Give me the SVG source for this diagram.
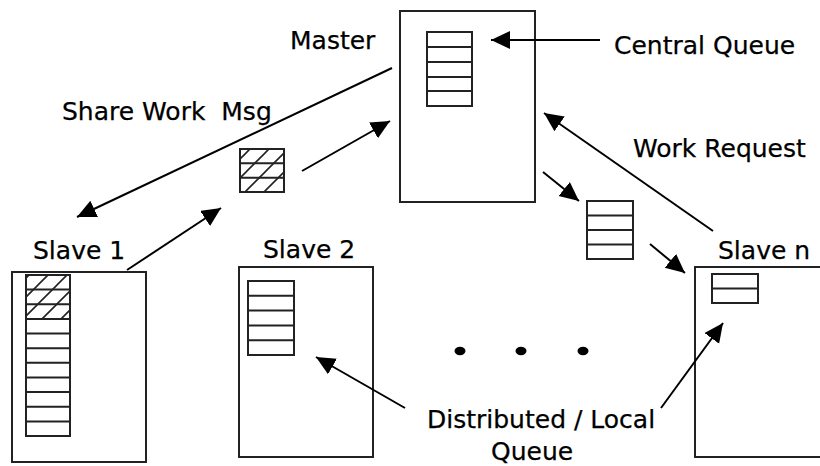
<svg xmlns="http://www.w3.org/2000/svg" width="820" height="466" viewBox="0 0 820 466">
  <style>
    .box { fill: #fff; stroke: #222; stroke-width: 2; }
    .cell { fill: none; stroke: #222; stroke-width: 2; }
    .hatch { fill: url(#hatch); stroke: none; }
    .arrow { stroke: #000; stroke-width: 2; fill: none; marker-end: url(#head); }
    .label { font-family: "DejaVu Sans", Verdana, sans-serif; font-size: 25px; fill: #000; stroke: #000; stroke-width: 0.25; }
    .dot { fill: #000; }
  </style>
  <defs>
    <marker id="head" markerUnits="userSpaceOnUse" markerWidth="21" markerHeight="19" refX="19" refY="9" orient="auto">
      <path d="M0,0 L19,9 L0,18 z" fill="#000"/>
    </marker>
    <pattern id="hatch" patternUnits="userSpaceOnUse" width="19" height="19">
      <path d="M-2,21 L21,-2 M-2,2 L2,-2 M17,21 L21,17" stroke="#222" stroke-width="1.6"/>
    </pattern>
  </defs>

  <!-- Master with its central queue -->
  <g id="master">
    <rect class="box" x="400" y="11" width="135" height="191"/>
    <rect class="cell" x="427" y="32" width="45" height="74"/>
    <path class="cell" d="M427,47 H472 M427,62 H472 M427,77 H472 M427,91 H472"/>
    <text class="label" x="290" y="49">Master</text>
  </g>

  <g id="central-queue-label">
    <text class="label" x="614" y="54">Central Queue</text>
  </g>

  <!-- Work item travelling from Slave 1 -->
  <g id="share-msg">
    <rect class="hatch" x="240" y="149" width="44" height="43"/>
    <rect class="cell" x="240" y="149" width="44" height="43"/>
    <path class="cell" d="M240,163.3 H284 M240,177.7 H284"/>
  </g>

  <g id="share-label">
    <text class="label" x="62" y="120" xml:space="preserve">Share Work  Msg</text>
  </g>

  <!-- Work items on their way to Slave n -->
  <g id="transit-queue">
    <rect class="cell" x="587" y="201" width="46" height="58"/>
    <path class="cell" d="M587,215.5 H633 M587,230 H633 M587,244.5 H633"/>
  </g>

  <g id="work-request-label">
    <text class="label" x="633" y="157">Work Request</text>
  </g>

  <!-- Slave 1: long local queue, top three items shared -->
  <g id="slave1">
    <rect class="box" x="12" y="272" width="134" height="190"/>
    <rect class="hatch" x="26" y="275" width="44" height="44"/>
    <rect class="cell" x="26" y="275" width="44" height="161"/>
    <path class="cell" d="M26,289.6 H70 M26,304.3 H70 M26,318.9 H70 M26,333.5 H70 M26,348.2 H70 M26,362.8 H70 M26,377.5 H70 M26,392.1 H70 M26,406.7 H70 M26,421.4 H70"/>
    <text class="label" x="33" y="259">Slave 1</text>
  </g>

  <!-- Slave 2 -->
  <g id="slave2">
    <rect class="box" x="239" y="267" width="134" height="190"/>
    <rect class="cell" x="248" y="281" width="46" height="74"/>
    <path class="cell" d="M248,295.8 H294 M248,310.6 H294 M248,325.4 H294 M248,340.2 H294"/>
    <text class="label" x="263" y="258">Slave 2</text>
  </g>

  <!-- Slave n -->
  <g id="slaven">
    <rect class="box" x="695" y="267" width="128" height="190"/>
    <rect class="cell" x="712" y="274" width="46" height="29"/>
    <path class="cell" d="M712,288.5 H758"/>
    <text class="label" x="718" y="259">Slave n</text>
  </g>

  <g id="ellipsis">
    <ellipse class="dot" cx="460" cy="351" rx="5.5" ry="4.2"/>
    <ellipse class="dot" cx="521" cy="351" rx="5.5" ry="4.2"/>
    <ellipse class="dot" cx="583" cy="351" rx="5.5" ry="4.2"/>
  </g>

  <g id="local-queue-label">
    <text class="label" x="427" y="428">Distributed / Local</text>
    <text class="label" x="491" y="460">Queue</text>
  </g>

  <!-- Connectors -->
  <g id="connectors">
    <line class="arrow" x1="600" y1="40" x2="491" y2="40"/>
    <line class="arrow" x1="392" y1="68" x2="77" y2="217"/>
    <line class="arrow" x1="127" y1="270" x2="221" y2="208"/>
    <line class="arrow" x1="302" y1="171" x2="390" y2="121"/>
    <line class="arrow" x1="713" y1="231" x2="544" y2="113"/>
    <line class="arrow" x1="543" y1="172" x2="579" y2="201"/>
    <line class="arrow" x1="650" y1="244" x2="685" y2="273"/>
    <line class="arrow" x1="405" y1="408" x2="316" y2="357"/>
    <line class="arrow" x1="661" y1="408" x2="723" y2="323"/>
  </g>
</svg>
